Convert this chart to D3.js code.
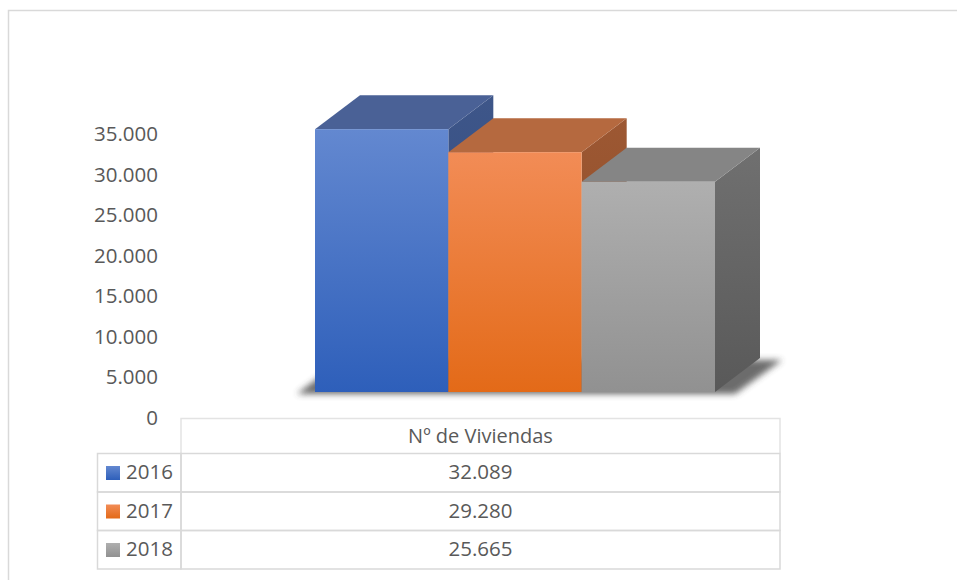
<!DOCTYPE html>
<html>
<head>
<meta charset="utf-8">
<script src="https://cdn.jsdelivr.net/npm/d3@7"></script>
<style>
  body { margin: 0; background: #fff; }
  text { font-family: "Open Sans", "Lato", sans-serif; fill: #595959; }
</style>
</head>
<body>
<div id="chart"></div>
<script>
// data
var years = ['2016', '2017', '2018']
var viviendas = [32089, 29280, 25665]
var yTicks = [0, 5000, 10000, 15000, 20000, 25000, 30000, 35000]
var seriesName = 'Nº de Viviendas'

// face colours per year: front top, front bottom, top face, side top, side bottom
var frontTop = ['#6388d0', '#f28c56', '#afafaf']
var frontBottom = ['#2e5fba', '#e36a18', '#919191']
var topFace = ['#4a6196', '#b5693f', '#858585']
var sideTop = ['#3e5689', '#9d5833', '#707070']
var sideBottom = ['#2f4a80', '#8a4a26', '#595959']

var width = 957
var height = 580
var depthX = 45
var depthY = -34

var locale = d3.formatLocale({decimal: ',', thousands: '.', grouping: [3], currency: ['', ' €']})
var fmt = locale.format(',d')

var svg = d3.select('#chart').append('svg')
    .attr('width', width)
    .attr('height', height)

var defs = svg.append('defs')
years.forEach(function(y, i) {
    var g = defs.append('linearGradient').attr('id', 'front' + i)
        .attr('x1', 0).attr('y1', 0).attr('x2', 0).attr('y2', 1)
    g.append('stop').attr('offset', '0%').attr('stop-color', frontTop[i])
    g.append('stop').attr('offset', '100%').attr('stop-color', frontBottom[i])
    var s = defs.append('linearGradient').attr('id', 'side' + i)
        .attr('x1', 0).attr('y1', 0).attr('x2', 0).attr('y2', 1)
    s.append('stop').attr('offset', '0%').attr('stop-color', sideTop[i])
    s.append('stop').attr('offset', '100%').attr('stop-color', sideBottom[i])
})
defs.append('filter').attr('id', 'blur')
    .attr('x', '-20%').attr('y', '-50%').attr('width', '140%').attr('height', '200%')
    .append('feGaussianBlur').attr('stdDeviation', 3)

// outer frame (runs off the right and bottom edges)
svg.append('path')
    .attr('d', 'M8.5,' + (height + 5) + 'V10.5H' + (width + 5))
    .attr('fill', 'none')
    .attr('stroke', '#d9d9d9')
    .attr('stroke-width', 1.5)

var x = d3.scaleBand().domain(years).range([315, 715]).padding(0)
var y = d3.scaleLinear().domain([0, 35000]).range([392, 392 - 35000 * 0.00819])
var yAxisScale = d3.scaleLinear().domain([0, 35000]).range([418, 134])

// axis labels
var axis = svg.append('g')
    .attr('transform', 'translate(158,0)')
    .call(d3.axisLeft(yAxisScale).tickValues(yTicks).tickFormat(fmt).tickSize(0).tickPadding(0))
axis.select('.domain').remove()
axis.selectAll('text')
    .style('font-family', '"Open Sans", sans-serif')
    .style('font-size', '20.5px')
    .attr('fill', '#595959')

// floor shadow
var x0 = x.range()[0], x1 = x.range()[1]
svg.append('polygon')
    .attr('points', [[x0 - 18, y(0) + 2], [x1 + 20, y(0) + 2], [x1 + depthX + 22, y(0) + depthY + 2], [x0 + depthX - 18, y(0) + depthY + 2]].join(' '))
    .attr('fill', '#3a3a3a')
    .attr('opacity', 0.75)
    .attr('filter', 'url(#blur)')

// bars, left to right so each bar covers the side of the one before
var bars = svg.append('g')
years.forEach(function(yr, i) {
    var bx = x(yr)
    var bw = x.bandwidth()
    var top = y(viviendas[i])
    var bottom = y(0)
    var g = bars.append('g')
    g.append('polygon')
        .attr('points', [[bx + bw, top], [bx + bw + depthX, top + depthY], [bx + bw + depthX, bottom + depthY], [bx + bw, bottom]].join(' '))
        .attr('fill', 'url(#side' + i + ')')
    g.append('polygon')
        .attr('points', [[bx, top], [bx + depthX, top + depthY], [bx + bw + depthX, top + depthY], [bx + bw, top]].join(' '))
        .attr('fill', topFace[i])
    g.append('rect')
        .attr('x', bx)
        .attr('y', top)
        .attr('width', bw)
        .attr('height', bottom - top)
        .attr('fill', 'url(#front' + i + ')')
})

// data table under the chart
var tableLeft = 97.5
var colSplit = 181
var tableRight = 780
var headerTop = 418.5
var headerBottom = 453.5
var rowH = 38.5
var lineColor = '#d9d9d9'

var table = svg.append('g')
table.append('path')
    .attr('d', 'M' + colSplit + ',' + headerBottom + 'V' + headerTop + 'H' + tableRight + 'V' + headerBottom)
    .attr('fill', 'none').attr('stroke', '#e3e3e3').attr('stroke-width', 1.5)
table.append('text')
    .attr('x', (colSplit + tableRight) / 2)
    .attr('y', (headerTop + headerBottom) / 2 + 2)
    .attr('text-anchor', 'middle')
    .attr('dominant-baseline', 'middle')
    .style('font-size', '20px')
    .text(seriesName)

years.forEach(function(yr, i) {
    var rt = headerBottom + i * rowH
    table.append('rect')
        .attr('x', tableLeft).attr('y', rt)
        .attr('width', colSplit - tableLeft).attr('height', rowH)
        .attr('fill', 'none').attr('stroke', lineColor).attr('stroke-width', 1.5)
    table.append('rect')
        .attr('x', colSplit).attr('y', rt)
        .attr('width', tableRight - colSplit).attr('height', rowH)
        .attr('fill', 'none').attr('stroke', lineColor).attr('stroke-width', 1.5)
    table.append('rect')
        .attr('x', 106).attr('y', rt + 12.5)
        .attr('width', 14).attr('height', 14)
        .attr('fill', 'url(#front' + i + ')')
    table.append('text')
        .attr('x', 126)
        .attr('y', rt + rowH / 2 + 1)
        .attr('dominant-baseline', 'middle')
        .style('font-size', '20.5px')
        .text(yr)
    table.append('text')
        .attr('x', (colSplit + tableRight) / 2)
        .attr('y', rt + rowH / 2 + 1)
        .attr('text-anchor', 'middle')
        .attr('dominant-baseline', 'middle')
        .style('font-size', '20.5px')
        .text(fmt(viviendas[i]))
})
</script>
</body>
</html>
